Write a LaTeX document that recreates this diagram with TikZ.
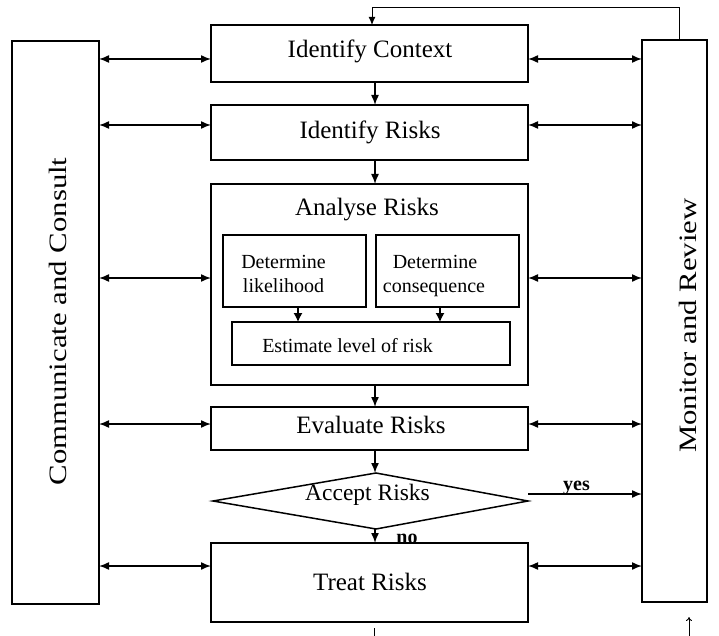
\documentclass[tikz,border=0pt]{standalone}
\usepackage{fontspec}
\setmainfont{Liberation Serif}
\usetikzlibrary{arrows.meta}
\begin{document}
\begin{tikzpicture}[x=1pt,y=-1pt,
  mainbox/.style={draw, line width=1.7pt, inner sep=0pt, outer sep=0pt},
  subbox/.style={draw, line width=1.1pt, inner sep=0pt, outer sep=0pt},
  maintext/.style={font=\fontsize{25}{28}\selectfont, inner sep=0pt, anchor=base},
  subtext/.style={font=\fontsize{20}{22}\selectfont, inner sep=0pt, anchor=base},
  flagtext/.style={font=\fontsize{20}{22}\selectfont\bfseries, inner sep=0pt, anchor=base},
  sidetext/.style={font=\fontsize{25}{28}\selectfont, inner sep=0pt, rotate=90},
  flow/.style={line width=1.5pt, -{Latex[length=10pt,width=8pt]}},
  both/.style={line width=1.5pt, {Latex[length=10pt,width=8pt]}-{Latex[length=10pt,width=8pt]}},
  subflow/.style={line width=1.2pt, -{Latex[length=9pt,width=9pt]}},
  feedback/.style={line width=1pt, -{Latex[length=8pt,width=7pt]}},
  stub/.style={line width=0.9pt}
]
\useasboundingbox (0,0) rectangle (719,636);

% side columns
\node[mainbox, minimum width=87pt, minimum height=563pt] (cc) at (55.5,322.5) {};
\node[mainbox, minimum width=65pt, minimum height=562pt] (mr) at (674.5,321) {};
\node[sidetext] (ccT) at (57.5,321.5) {\scalebox{1.23}[1]{Communicate and Consult}};
\node[sidetext] (mrT) at (688,325.5) {\scalebox{1.23}[1]{Monitor and Review}};

% main process column
\node[mainbox, minimum width=317pt, minimum height=57pt] (ctx) at (369.5,53.5) {};
\node[mainbox, minimum width=317pt, minimum height=55pt] (risks) at (369.5,132.5) {};
\node[mainbox, minimum width=317pt, minimum height=201pt] (analyse) at (369.5,284.5) {};
\node[mainbox, minimum width=317pt, minimum height=43pt] (evaluate) at (369.5,428.5) {};
\node[mainbox, minimum width=317pt, minimum height=79pt] (treat) at (369.5,582.5) {};

\node[maintext] (ctxT) at (370,58) {Identify Context};
\node[maintext] (risksT) at (370,139) {Identify Risks};
\node[maintext] (analyseT) at (367,215) {Analyse Risks};
\node[maintext] (evaluateT) at (371,433) {Evaluate Risks};
\node[maintext] (treatT) at (370,590) {Treat Risks};

% analysis sub-steps
\node[subbox, minimum width=143pt, minimum height=72pt] (likely) at (294.5,271) {};
\node[subbox, minimum width=143pt, minimum height=72pt] (conseq) at (447.5,271) {};
\node[subbox, minimum width=278pt, minimum height=43pt] (estimate) at (371,343.5) {};
\node[subtext] (likelyA) at (283.5,268) {Determine};
\node[subtext] (likelyB) at (283.5,292) {likelihood};
\node[subtext] (conseqA) at (435,268) {Determine};
\node[subtext] (conseqB) at (434,292) {consequence};
\node[subtext] (estimateT) at (347.5,352) {Estimate level of risk};

\coordinate (lx) at (298,0);
\coordinate (cx) at (440,0);
\draw[subflow] (likely.south -| lx) -- (estimate.north -| lx);
\draw[subflow] (conseq.south -| cx) -- (estimate.north -| cx);

% decision
\coordinate (dl) at (213,501);
\coordinate (dt) at (376,473);
\coordinate (dr) at (528,501);
\coordinate (db) at (376,529);
\draw[line width=1.5pt, line join=miter] (dl) -- (dt) -- (dr) -- (db) -- cycle;
\node[maintext, font=\fontsize{23.5}{26}\selectfont] (acceptT) at (367.5,500) {Accept Risks};

% vertical flow
\coordinate (spine) at (375,0);
\draw[flow] (ctx.south -| spine) -- (risks.north -| spine);
\draw[flow] (risks.south -| spine) -- (analyse.north -| spine);
\draw[flow] (analyse.south -| spine) -- (evaluate.north -| spine);
\draw[flow] (evaluate.south -| spine) -- (dt -| spine);
\draw[flow] (db -| spine) -- (treat.north -| spine);
\node[flagtext] (noT) at (407,543) {no};

% accept -> monitor
\coordinate (yesy) at (0,494);
\draw[flow] (dr |- yesy) -- (mr.west |- yesy);
\node[flagtext] (yesT) at (576.5,490) {yes};

% two-way links to the side columns
\foreach \lvl/\stepname in {59/ctx, 125/risks, 278/analyse, 424/evaluate, 566/treat}{
  \coordinate (lv) at (0,\lvl);
  \draw[both] (cc.east |- lv) -- (\stepname.west |- lv);
  \draw[both] (\stepname.east |- lv) -- (mr.west |- lv);
}

% feedback loop from monitoring back to context
\coordinate (fbright) at (679,8);
\coordinate (fbleft) at (372,8);
\draw[feedback] (mr.north -| fbright) -- (fbright) -- (fbleft) -- (ctx.north -| fbleft);

% continuations below
\coordinate (stubAtop) at (374,628);
\coordinate (stubAend) at (374,636);
\draw[stub] (stubAtop) -- (stubAend);
\coordinate (stubBend) at (689,636);
\coordinate (stubBtip) at (689,617);
\draw[stub, -{To[length=4pt,width=6pt]}] (stubBend) -- (stubBtip);
\end{tikzpicture}
\end{document}
